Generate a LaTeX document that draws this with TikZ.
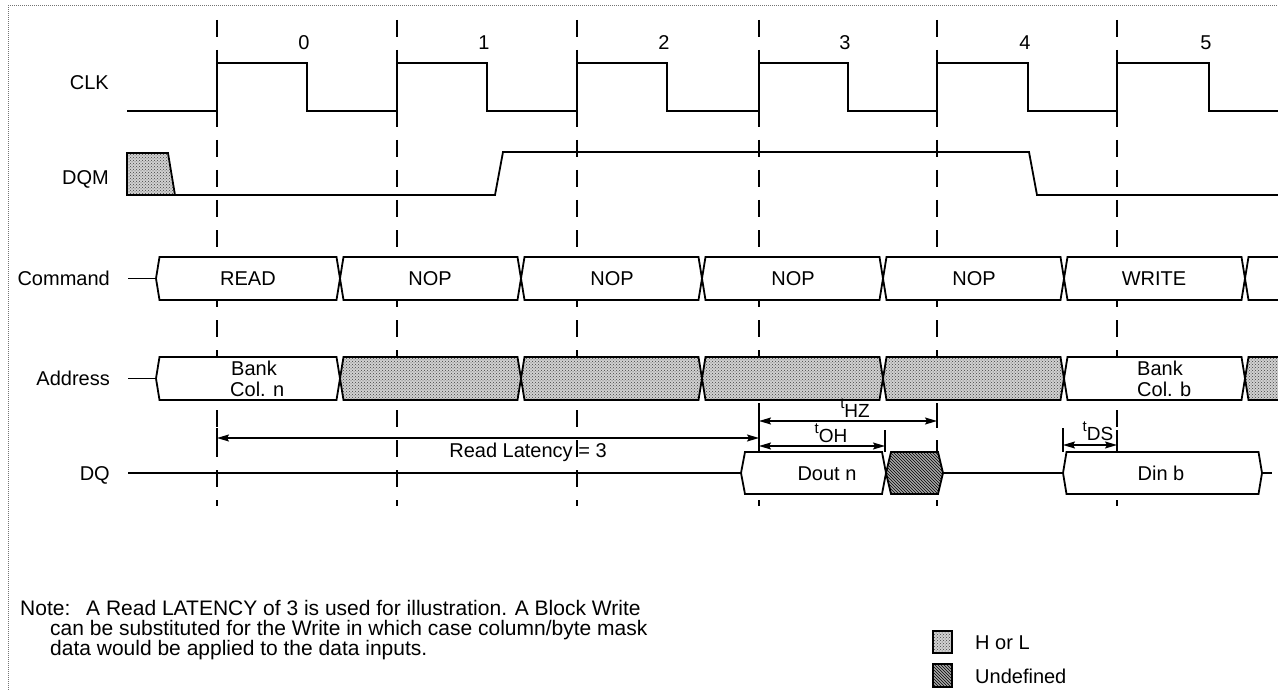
\documentclass[tikz,border=0pt]{standalone}
\usepackage{fontspec}
\setmainfont{Liberation Sans}
\usetikzlibrary{patterns,arrows.meta}
\newcommand\tlab[1]{\raisebox{9pt}{\fontsize{15}{15}\selectfont t}{\fontsize{19}{19}\selectfont #1}}
\newcommand\busbox[6]{\draw[sig,#5] ({#1+#6},#3) -- ({#2-#6},#3) -- (#2,{(#3+#4)/2}) -- ({#2-#6},#4) -- ({#1+#6},#4) -- (#1,{(#3+#4)/2}) -- cycle;}
\begin{document}
\begin{tikzpicture}[x=1pt,y=-1pt,
  sig/.style={line width=1.8pt, line join=miter},
  gridline/.style={line width=1.8pt, dash pattern=on 17pt off 13pt},
  txt/.style={font=\fontsize{20}{22}\selectfont, inner sep=0pt, anchor=base},
  lbl/.style={txt, anchor=base east},
  notetxt/.style={font=\fontsize{21}{20}\selectfont, inner sep=0pt, anchor=base west},
  hl/.style={preaction={fill=black!18}, pattern=crosshatch dots, pattern color=black!75},
  undef/.style={preaction={fill=black!35}, pattern=north west lines, pattern color=black},
  wbox/.style={fill=white},
  dimarr/.style={line width=1.4pt, {Stealth[length=12pt,width=7pt,inset=2pt]}-{Stealth[length=12pt,width=7pt,inset=2pt]}},
  dimtick/.style={line width=1.4pt},
]
\useasboundingbox (0,0) rectangle (1278,690);
\clip (0,0) rectangle (1278,690);
\fill[white] (0,0) rectangle (1278,690);
% frame
\draw[black!55, densely dotted, line width=1pt] (8,690) -- (8,6) -- (1278,6);

% clock edge grid
\foreach \x in {217,397,577,759,937,1117}
  \draw[gridline] (\x,20) -- (\x,506);

% cycle numbers
\foreach \x/\n in {304/0,484/1,664/2,845/3,1025/4,1206/5}
  \node[txt] (num\n) at (\x,50) {\n};

% labels
\node[lbl] (lclk) at (109,90) {CLK};
\node[lbl] (ldqm) at (109,185) {DQM};
\node[lbl] (lcmd) at (110,285) {Command};
\node[lbl] (ladr) at (110,385) {Address};
\node[lbl] (ldq) at (110,480) {DQ};

% CLK
\draw[sig] (127,111) -- (217,111) |- (307,63) |- (397,111) |- (487,63) |- (577,111) |- (667,63) |- (759,111) |- (848,63) |- (937,111) |- (1028,63) |- (1117,111) |- (1209,63) |- (1280,111);

% DQM
\draw[sig,hl] (127,153) -- (168,153) -- (175,195) -- (127,195) -- cycle;
\draw[sig] (127,195) -- (495,195) -- (503,152) -- (1029,152) -- (1037,195) -- (1280,195);

% Command bus
\draw[sig] (128,278.5) -- (156,278.5);
\busbox{156}{340}{257}{300}{wbox}{3.5}
\busbox{340}{521}{257}{300}{wbox}{3.5}
\busbox{521}{702}{257}{300}{wbox}{3.5}
\busbox{702}{883}{257}{300}{wbox}{3.5}
\busbox{883}{1064}{257}{300}{wbox}{3.5}
\busbox{1064}{1245}{257}{300}{wbox}{3.5}
\busbox{1245}{1300}{257}{300}{wbox}{3.5}
\node[txt] (cread) at (248,285.5) {READ};
\node[txt] (cnop1) at (430,285.5) {NOP};
\node[txt] (cnop2) at (612,285.5) {NOP};
\node[txt] (cnop3) at (793,285.5) {NOP};
\node[txt] (cnop4) at (974,285.5) {NOP};
\node[txt] (cwrite) at (1154,285.5) {WRITE};

% Address bus
\draw[sig] (128,378.5) -- (156,378.5);
\busbox{156}{340}{357}{400}{wbox}{3.5}
\busbox{340}{521}{357}{400}{hl}{3.5}
\busbox{521}{702}{357}{400}{hl}{3.5}
\busbox{702}{883}{357}{400}{hl}{3.5}
\busbox{883}{1064}{357}{400}{hl}{3.5}
\busbox{1064}{1245}{357}{400}{wbox}{3.5}
\busbox{1245}{1300}{357}{400}{hl}{3.5}
\node[txt, anchor=base west] (abank1) at (231,375) {Bank};
\node[txt, anchor=base west] (acol1) at (230,396) {Col. n};
\node[txt, anchor=base west] (abank2) at (1137,375) {Bank};
\node[txt, anchor=base west] (acol2) at (1137,396) {Col. b};

% DQ
\draw[sig] (128,473) -- (741,473);
\busbox{741}{886}{452}{494}{wbox}{4}
\busbox{886}{943}{452}{494}{undef}{5}
\draw[sig] (943,473) -- (1063,473);
\busbox{1063}{1262}{452}{494}{wbox}{3.5}
\draw[sig] (1262,473) -- (1272,473);
\node[txt] (dout) at (827,480) {Dout n};
\node[txt] (din) at (1161,480) {Din b};

% timing dimensions
\draw[dimtick] (217,428) -- (217,450);
\draw[dimtick] (759,403) -- (759,452);
\draw[dimtick] (937,403) -- (937,428);
\draw[dimtick] (885,430) -- (885,452);
\draw[dimtick] (1063,428) -- (1063,452);
\draw[dimtick] (1117,430) -- (1117,450);
\coordinate (rlA) at (217,438);
\coordinate (rlB) at (759,438);
\draw[dimarr] (rlA) -- (rlB);
\node[txt] (rlat) at (528,457) {Read Latency = 3};
\coordinate (hzA) at (759,421);
\coordinate (hzB) at (937,421);
\draw[dimarr] (hzA) -- (hzB);
\node[txt] (thz) at (855,417) {\tlab{HZ}};
\coordinate (ohA) at (759,446);
\coordinate (ohB) at (885,446);
\draw[dimarr] (ohA) -- (ohB);
\node[txt] (toh) at (831,442) {\tlab{OH}};
\coordinate (dsA) at (1063,445);
\coordinate (dsB) at (1117,445);
\draw[dimarr] (dsA) -- (dsB);
\node[txt] (tds) at (1098,440) {\tlab{DS}};

% note
\node[notetxt] (note0) at (20,615) {Note:};
\node[notetxt] (note1) at (86,615) {A Read LATENCY of 3 is used for illustration. A Block Write};
\node[notetxt] (note2) at (50,635) {can be substituted for the Write in which case column/byte mask};
\node[notetxt] (note3) at (50,655) {data would be applied to the data inputs.};

% legend
\draw[line width=1.4pt, hl] (933,631) rectangle (952,653);
\draw[line width=1.4pt, undef] (933,664) rectangle (952,687);
\node[txt, anchor=base west] (lhl) at (975,649) {H or L};
\node[txt, anchor=base west] (lund) at (975,683) {Undefined};
\end{tikzpicture}
\end{document}
